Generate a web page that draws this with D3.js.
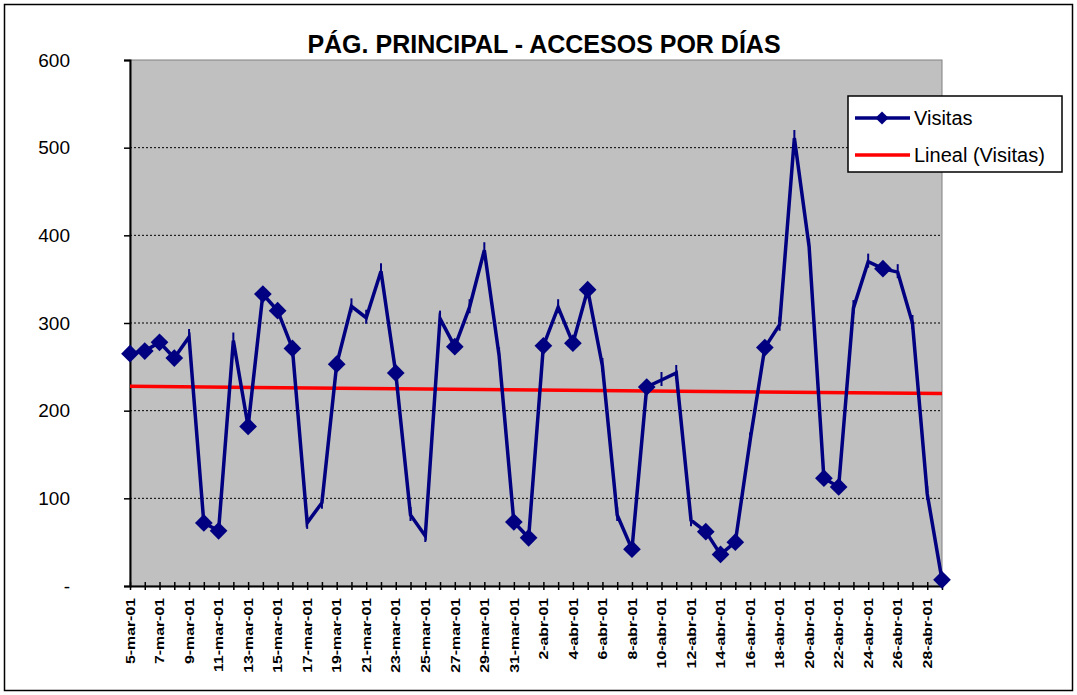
<!DOCTYPE html>
<html>
<head>
<meta charset="utf-8">
<script src="https://cdn.jsdelivr.net/npm/d3@7"></script>
<style>
  body { margin: 0; background: #fff; }
  svg { font-family: Arial, "Liberation Sans", sans-serif; }
</style>
</head>
<body>
<script>
// daily visits, 5-mar-01 .. 29-abr-01
const days = [
  '5-mar-01', '6-mar-01', '7-mar-01', '8-mar-01', '9-mar-01', '10-mar-01', '11-mar-01',
  '12-mar-01', '13-mar-01', '14-mar-01', '15-mar-01', '16-mar-01', '17-mar-01', '18-mar-01',
  '19-mar-01', '20-mar-01', '21-mar-01', '22-mar-01', '23-mar-01', '24-mar-01', '25-mar-01',
  '26-mar-01', '27-mar-01', '28-mar-01', '29-mar-01', '30-mar-01', '31-mar-01', '1-abr-01',
  '2-abr-01', '3-abr-01', '4-abr-01', '5-abr-01', '6-abr-01', '7-abr-01', '8-abr-01',
  '9-abr-01', '10-abr-01', '11-abr-01', '12-abr-01', '13-abr-01', '14-abr-01', '15-abr-01',
  '16-abr-01', '17-abr-01', '18-abr-01', '19-abr-01', '20-abr-01', '21-abr-01', '22-abr-01',
  '23-abr-01', '24-abr-01', '25-abr-01', '26-abr-01', '27-abr-01', '28-abr-01', '29-abr-01'
];

const visitas = [
  265, 268, 278, 260, 284, 72, 63,
  280, 182, 333, 314, 271, 72, 95,
  253, 319, 306, 359, 243, 81, 57,
  305, 273, 318, 383, 263, 73, 55,
  274, 318, 277, 338, 251, 81, 42,
  227, 235, 243, 75, 62, 36, 50,
  166, 272, 298, 511, 387, 123, 113,
  317, 370, 362, 358, 300, 105, 7
];

// days where the old chart actually painted the diamond marker
const markedDays = [
  '5-mar-01', '6-mar-01', '7-mar-01', '8-mar-01', '10-mar-01', '11-mar-01', '13-mar-01',
  '14-mar-01', '15-mar-01', '16-mar-01', '19-mar-01', '23-mar-01', '27-mar-01', '31-mar-01',
  '1-abr-01', '2-abr-01', '4-abr-01', '5-abr-01', '8-abr-01', '9-abr-01', '13-abr-01',
  '14-abr-01', '15-abr-01', '17-abr-01', '21-abr-01', '22-abr-01', '25-abr-01', '29-abr-01'
];

const yTicks = [0, 100, 200, 300, 400, 500, 600];

const W = 1077, H = 695;
const plot = { left: 130, right: 942, top: 60, bottom: 586 };

const svg = d3.select('body').append('svg')
  .attr('width', W)
  .attr('height', H);

// outer chart border
svg.append('rect')
  .attr('x', 4.5).attr('y', 4.5)
  .attr('width', W - 9).attr('height', H - 9)
  .attr('fill', 'white')
  .attr('stroke', 'black')
  .attr('stroke-width', 1.5);

const x = d3.scalePoint()
  .domain(days)
  .range([plot.left, plot.right]);

const y = d3.scaleLinear()
  .domain([0, 600])
  .range([plot.bottom, plot.top]);

// plot area
svg.append('rect')
  .attr('x', plot.left).attr('y', plot.top)
  .attr('width', plot.right - plot.left)
  .attr('height', plot.bottom - plot.top)
  .attr('fill', '#c0c0c0')
  .attr('stroke', '#808080')
  .attr('stroke-width', 1);

// gridlines
svg.append('g')
  .selectAll('line')
  .data(yTicks.filter(t => t > 0 && t < 600))
  .join('line')
    .attr('x1', plot.left).attr('x2', plot.right)
    .attr('y1', d => y(d)).attr('y2', d => y(d))
    .attr('stroke', 'black')
    .attr('stroke-width', 1)
    .attr('stroke-dasharray', '2,2');

// y axis
const yAxis = svg.append('g')
  .attr('transform', `translate(${plot.left},0)`)
  .call(d3.axisLeft(y).tickValues(yTicks).tickSize(6).tickPadding(54)
    .tickFormat(d => d === 0 ? '-' : d));
yAxis.select('.domain').attr('stroke', 'black').attr('stroke-width', 2);
yAxis.selectAll('.tick line').attr('stroke', 'black').attr('stroke-width', 1.5);
yAxis.selectAll('.tick text')
  .attr('font-size', 19)
  .attr('font-family', 'Arial, "Liberation Sans", sans-serif')
  .attr('fill', 'black');

// x axis: ticks on every day, label every second day
const xAxis = svg.append('g')
  .attr('transform', `translate(0,${plot.bottom})`)
  .call(d3.axisBottom(x).tickSizeOuter(0).tickSizeInner(0)
    .tickFormat((d, i) => i % 2 === 0 ? d : ''));
xAxis.select('.domain').attr('stroke', 'black').attr('stroke-width', 2);
xAxis.selectAll('.tick').append('line')
  .attr('y1', -4).attr('y2', 4)
  .attr('stroke', 'black').attr('stroke-width', 1.5);
// old-style wide bold labels: stretch along the reading direction
xAxis.selectAll('.tick text')
  .attr('font-size', 12)
  .attr('font-weight', 'bold')
  .attr('font-family', 'Arial, "Liberation Sans", sans-serif')
  .attr('fill', 'black')
  .attr('text-anchor', 'end')
  .attr('dy', '0.35em')
  .attr('transform', 'translate(0,12) rotate(-90) scale(1.32,1)')
  .attr('x', 0).attr('y', 0);

// linear trend (least squares on day index)
const n = visitas.length;
const mx = d3.mean(d3.range(n));
const my = d3.mean(visitas);
const slope = d3.sum(visitas, (v, i) => (i - mx) * (v - my)) / d3.sum(d3.range(n), i => (i - mx) ** 2);
const intercept = my - slope * mx;

svg.append('line')
  .attr('x1', x(days[0])).attr('y1', y(intercept))
  .attr('x2', x(days[n - 1])).attr('y2', y(intercept + slope * (n - 1)))
  .attr('stroke', '#ff0000')
  .attr('stroke-width', 3.5);

// visits line
const line = d3.line()
  .x((v, i) => x(days[i]))
  .y(v => y(v));

svg.append('path')
  .datum(visitas)
  .attr('d', line)
  .attr('fill', 'none')
  .attr('stroke', '#000080')
  .attr('stroke-width', 3.5)
  .attr('stroke-linejoin', 'miter');

const points = days.map((d, i) => ({ day: d, v: visitas[i], marked: markedDays.includes(d) }));

// little vertical ticks where the marker was dropped
svg.append('g')
  .selectAll('line')
  .data(points.filter(p => !p.marked))
  .join('line')
    .attr('x1', p => x(p.day)).attr('x2', p => x(p.day))
    .attr('y1', p => y(p.v) - 8).attr('y2', p => y(p.v) + 6)
    .attr('stroke', '#000080')
    .attr('stroke-width', 2);

const diamond = d3.symbol().type(d3.symbolDiamond2).size(200);

svg.append('g')
  .selectAll('path')
  .data(points.filter(p => p.marked))
  .join('path')
    .attr('transform', p => `translate(${x(p.day)},${y(p.v)})`)
    .attr('d', diamond)
    .attr('fill', '#000080');

// title
svg.append('text')
  .attr('x', 544).attr('y', 53)
  .attr('text-anchor', 'middle')
  .attr('font-size', 25)
  .attr('font-weight', 'bold')
  .text('PÁG. PRINCIPAL - ACCESOS POR DÍAS');

// legend
const legend = svg.append('g').attr('transform', 'translate(848,96)');
legend.append('rect')
  .attr('width', 214).attr('height', 76)
  .attr('fill', 'white')
  .attr('stroke', 'black')
  .attr('stroke-width', 1.5);

const legendItems = [
  { label: 'Visitas', color: '#000080', marker: true },
  { label: 'Lineal (Visitas)', color: '#ff0000', marker: false }
];

const item = legend.selectAll('.item')
  .data(legendItems)
  .join('g')
    .attr('class', 'item')
    .attr('transform', (d, i) => `translate(0,${22 + i * 37})`);

item.append('line')
  .attr('x1', 7).attr('x2', 62)
  .attr('stroke', d => d.color)
  .attr('stroke-width', 3.5);

item.filter(d => d.marker).append('path')
  .attr('transform', 'translate(34,0)')
  .attr('d', d3.symbol().type(d3.symbolDiamond2).size(110))
  .attr('fill', '#000080');

item.append('text')
  .attr('x', 66)
  .attr('dy', '0.35em')
  .attr('font-size', 20)
  .text(d => d.label);
</script>
</body>
</html>
